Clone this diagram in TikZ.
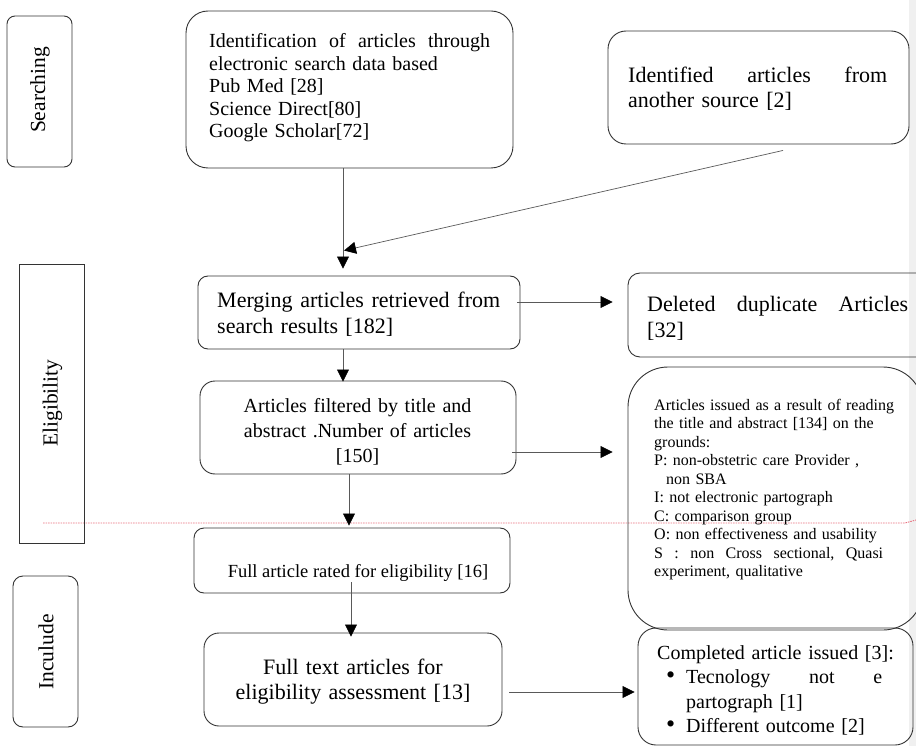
\documentclass[tikz,border=0pt]{standalone}
\usepackage{fontspec}
\setmainfont{Liberation Serif}
\usetikzlibrary{arrows.meta}
\definecolor{trackred}{RGB}{232,110,125}
\newcommand{\jbox}[2]{\leavevmode\hbox to #1{#2}}
\newcommand{\bul}{\makebox[20pt][l]{\fontsize{26}{24.5}\selectfont •}}
\begin{document}
\begin{tikzpicture}[x=1pt,y=-1pt,
  box/.style={draw=black!80, line width=0.9pt, rounded corners=#1, inner sep=0pt},
  box/.default=12pt,
  sqbox/.style={draw=black!80, line width=0.9pt, inner sep=0pt},
  arr/.style={draw=black!65, line width=0.7pt, -{Triangle[length=12pt,width=12pt,color=black]}},
  txt/.style={inner sep=0pt, anchor=base west, align=left},
  ctxt/.style={inner sep=0pt, anchor=base, align=center},
  side/.style={inner sep=0pt, rotate=90, font=\fontsize{21.5}{25}\selectfont},
  f20/.style={font=\fontsize{20}{22.5}\selectfont},
  f22/.style={font=\fontsize{22}{25}\selectfont},
  f16/.style={font=\fontsize{16}{18.5}\selectfont}
]
\useasboundingbox (0,0) rectangle (916,746);
\clip (0,0) rectangle (916,746);
% grey margin strip
\fill[black!6] (909,0) rectangle (916,746);
% change-tracking line
\draw[trackred, line width=0.9pt, dash pattern=on 1.5pt off 1pt] (43,523) -- (905,523) -- (916,520);

% side labels
\node[box=8pt, minimum width=65pt, minimum height=151pt] (search) at (39.5,91.5) {};
\node[side] (searchT) at (40,90) {Searching};
\node[sqbox, minimum width=65pt, minimum height=279pt] (elig) at (51.5,403.5) {};
\node[side] (eligT) at (52.5,403) {Eligibility};
\node[box=10pt, minimum width=65pt, minimum height=151pt] (incl) at (45.5,651.5) {};
\node[side] (inclT) at (46,652) {Inculude};

% main column
\node[box=22pt, minimum width=327pt, minimum height=157pt] (ident) at (349.5,89.5) {};
\node[txt, f20, text width=300pt] (identT) at (209,48)
  {\jbox{281pt}{Identification\hfill of\hfill articles\hfill through}\\
   electronic search data based\\
   Pub Med [28]\\
   Science Direct[80]\\
   Google Scholar[72]};

\node[box=10pt, minimum width=322pt, minimum height=73pt] (merg) at (359,312.5) {};
\node[txt, f22, text width=300pt] (mergT) at (217,308)
  {\jbox{283pt}{Merging\hfill articles\hfill retrieved\hfill from}\\
   search results [182]};

\node[box=15pt, minimum width=316pt, minimum height=93pt] (filt) at (358,427.5) {};
\node[ctxt, font=\fontsize{20}{25}\selectfont, text width=300pt] (filtT) at (357.5,412)
  {Articles filtered by title and\\
   abstract .Number of articles\\
   {}[150]};

\node[box=10pt, minimum width=316pt, minimum height=65pt] (rated) at (352,560.5) {};
\node[ctxt, font=\fontsize{18.5}{22}\selectfont] (ratedT) at (358,577)
  {Full article rated for eligibility [16]};

\node[box=15pt, minimum width=298pt, minimum height=93pt] (full) at (353,679.5) {};
\node[ctxt, f22, text width=290pt] (fullT) at (353,674)
  {Full text articles for\\
   eligibility assessment [13]};

% right column
\node[box=18pt, minimum width=301pt, minimum height=113pt] (other) at (758.5,87.5) {};
\node[txt, f22, text width=280pt] (otherT) at (628,83)
  {\jbox{259pt}{Identified\hfill articles\hfill from}\\
   another source [2]};

\node[box=12pt, minimum width=312pt, minimum height=84pt] (del) at (784,315) {};
\node[txt, font=\fontsize{22}{26}\selectfont, text width=280pt] (delT) at (647,312)
  {\jbox{261pt}{Deleted\hfill duplicate\hfill Articles}\\
   {}[32]};

\node[box=40pt, minimum width=295pt, minimum height=263pt] (grounds) at (775.5,498.5) {};
\node[txt, f16, text width=260pt] (groundsT) at (654,410)
  {Articles issued as a result of reading\\
   the title and abstract [134] on the\\
   grounds:\\
   P: non-obstetric care Provider ,\\
   \hspace*{12pt}non SBA\\
   I: not electronic partograph\\
   C: comparison group\\
   O: non effectiveness and usability\\
   \jbox{229pt}{S\hfill :\hfill non\hfill Cross\hfill sectional,\hfill Quasi}\\
   experiment, qualitative};

\node[box=18pt, minimum width=275pt, minimum height=117pt] (comp) at (775.5,686.5) {};
\node[txt, font=\fontsize{20}{24.5}\selectfont, text width=250pt] (compT) at (657,659)
  {Completed article issued [3]:\\
   \hspace*{9pt}\bul\jbox{196pt}{Tecnology\hfill not\hfill e}\\
   \hspace*{29pt}partograph [1]\\
   \hspace*{9pt}\bul Different outcome [2]};

% connectors
\draw[arr] (ident.south -| 343,0) -- ([shift={(-16,-7)}]merg.north);
\draw[arr] ([shift={(24.5,6)}]other.south) -- ([shift={(-15,-25)}]merg.north);
\draw[arr] ([xshift=-16]merg.south) -- ([shift={(-15,1)}]filt.north);
\draw[arr] ([shift={(-3,-10.5)}]merg.east) -- ([shift={(-15,-13)}]del.west);
\draw[arr] ([shift={(-4,24.5)}]filt.east) -- ([shift={(-15,-46.5)}]grounds.west);
\draw[arr] ([xshift=-9]filt.south) -- ([shift={(-3,-2)}]rated.north);
\draw[arr] ([shift={(-1,-11)}]rated.south) -- ([shift={(-2,4)}]full.north);
\draw[arr] ([shift={(7,12.5)}]full.east) -- ([shift={(-3,5.5)}]comp.west);
\end{tikzpicture}
\end{document}
